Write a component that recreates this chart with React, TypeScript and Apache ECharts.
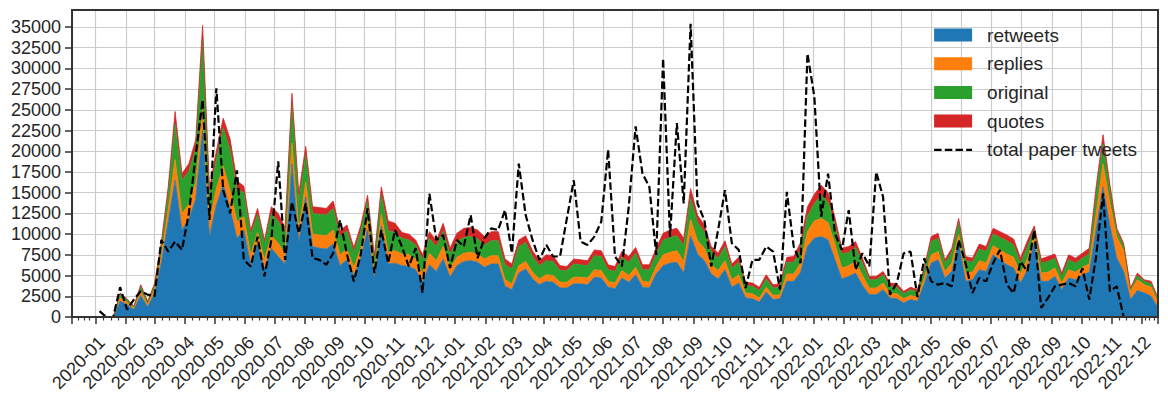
import React, { useEffect, useRef } from 'react';
import * as echarts from 'echarts';

const DAY = 86400000;
const FIRST_WEEK = Date.UTC(2019, 11, 8);
const N_WEEKS = 159;
// weekly bins (Sundays) from 2019-12-08 to 2022-12-18
const weeks: number[] = Array.from({ length: N_WEEKS }, (_, i) => FIRST_WEEK + i * 7 * DAY);

const yTicks = [0, 2500, 5000, 7500, 10000, 12500, 15000, 17500, 20000, 22500, 25000, 27500, 30000, 32500, 35000];

const retweets = [
  0, 0, 0, 0, 0, 0, 0, 1900, 1500, 900,
  2600, 1200, 2800, 6500, 11500, 16500, 10500, 11800, 14200, 22500,
  9700, 13500, 16000, 13000, 9500, 10500, 6300, 8800, 5800, 8300,
  7300, 6400, 18500, 9000, 14500, 8500, 8300, 8200, 8800, 6200,
  6900, 5000, 7000, 10500, 4600, 11000, 6400, 6500, 6200, 6100,
  5700, 4200, 6300, 5500, 7000, 4800, 6200, 6700, 6800, 6600,
  6000, 6400, 6400, 3700, 3300, 5300, 5800, 4600, 3900, 4300,
  4200, 3500, 3500, 4000, 4000, 3900, 4800, 4700, 3600, 3400,
  4700, 4200, 5100, 3600, 3500, 5200, 6200, 6500, 6600, 5300,
  9800, 7600, 6800, 5200, 4600, 5700, 3600, 4100, 2300, 2200,
  1800, 3000, 2100, 2200, 4300, 4300, 5400, 8500, 9500, 9700,
  9300, 6900, 4600, 4900, 5300, 3800, 2700, 2700, 3300, 2300,
  2200, 1700, 2100, 1900, 4000, 6500, 6900, 4700, 5500, 9000,
  4300, 4500, 5700, 5500, 7500, 6900, 6300, 5900, 4100, 5700,
  9000, 4300, 4300, 4900, 3300, 4700, 4500, 5100, 5400, 10500,
  15700, 11000, 7100, 5500, 2100, 3200, 2900, 2500, 1100,
];

const replies = [
  0, 0, 0, 0, 0, 0, 0, 400, 300, 200,
  500, 300, 500, 900, 1500, 2500, 2000, 1800, 2000, 2500,
  1800, 2000, 2200, 2300, 2000, 1600, 1200, 1400, 1100, 1500,
  1600, 1200, 2500, 1500, 1800, 1500, 1600, 1600, 1700, 1300,
  1300, 1000, 1200, 1300, 900, 1400, 1400, 1500, 1400, 1400,
  1300, 1100, 1400, 1300, 1500, 1100, 1000, 1000, 1000, 1000,
  1000, 1000, 1000, 800, 700, 900, 900, 800, 700, 800,
  800, 700, 700, 800, 800, 800, 900, 900, 700, 700,
  900, 800, 900, 700, 700, 900, 1300, 1300, 1400, 1400,
  2000, 1600, 1500, 1100, 1000, 1100, 900, 1000, 600, 600,
  500, 600, 500, 500, 900, 900, 1100, 1800, 2100, 2200,
  2100, 1900, 1300, 1300, 1400, 1200, 800, 800, 800, 600,
  600, 500, 500, 500, 700, 1000, 1000, 800, 1000, 1000,
  1100, 900, 1100, 1000, 1100, 1200, 1300, 1300, 1100, 1300,
  800, 1000, 1100, 1000, 800, 1000, 900, 900, 1000, 2000,
  2800, 2800, 2600, 2500, 1000, 1300, 1000, 1100, 700,
];

const original = [
  0, 0, 0, 0, 0, 0, 0, 400, 300, 150,
  600, 300, 500, 1200, 2100, 4300, 4000, 4000, 4100, 8500,
  3200, 3500, 4600, 4900, 3900, 2900, 2400, 2200, 1900, 2600,
  2700, 2400, 4800, 3400, 3300, 2500, 2500, 2500, 2600, 2200,
  2200, 1800, 2100, 2200, 1400, 2400, 2600, 2200, 1900, 1800,
  1700, 1600, 1800, 1700, 1900, 1700, 1900, 1900, 1900, 1800,
  1700, 1800, 1800, 1800, 1800, 2300, 2300, 1900, 1600, 1700,
  1700, 1400, 1400, 1600, 1500, 1500, 1700, 1700, 1400, 1400,
  1600, 1600, 1700, 1400, 1500, 1500, 1800, 1800, 1800, 1900,
  2600, 2200, 2000, 1600, 1500, 1700, 1400, 1500, 900, 900,
  900, 1000, 900, 900, 1400, 1400, 1600, 1900, 2100, 2800,
  2500, 2300, 1700, 1600, 1700, 1500, 1000, 1000, 1000, 800,
  800, 600, 700, 600, 900, 1600, 1600, 1000, 1300, 1400,
  1400, 1200, 1400, 1400, 1400, 1500, 1600, 1500, 1300, 1500,
  800, 1200, 1300, 1200, 800, 1200, 1100, 1100, 1200, 2300,
  2400, 1500, 700, 600, 200, 500, 400, 400, 300,
];

const quotes = [
  0, 0, 0, 0, 0, 0, 0, 200, 100, 50,
  200, 100, 200, 400, 600, 1500, 800, 900, 1100, 1700,
  800, 1000, 1200, 1300, 1000, 800, 600, 700, 500, 900,
  900, 800, 1200, 1000, 1000, 800, 800, 800, 900, 700,
  700, 600, 700, 700, 500, 900, 1200, 1100, 700, 700,
  600, 600, 800, 700, 900, 700, 1000, 1100, 1100, 1100,
  1000, 1100, 1100, 700, 600, 800, 800, 700, 600, 700,
  700, 600, 500, 600, 600, 600, 700, 700, 600, 600,
  700, 700, 700, 600, 600, 700, 800, 900, 900, 900,
  1100, 900, 800, 600, 600, 700, 500, 600, 400, 400,
  400, 500, 400, 400, 600, 700, 900, 1100, 1100, 1200,
  1100, 900, 700, 700, 700, 600, 400, 400, 400, 400,
  400, 300, 300, 300, 400, 600, 600, 400, 500, 500,
  500, 500, 600, 600, 700, 700, 700, 700, 600, 700,
  400, 500, 600, 500, 400, 600, 600, 600, 700, 900,
  1100, 700, 300, 300, 200, 300, 200, 300, 200,
];

const totalPaperTweets: (number | null)[] = [
  null, null, null, null, 700, 0, 0, 3600, 900, 2100,
  3100, 2700, 2500, 9300, 7900, 9100, 8100, 12500, 19500, 26200,
  11700, 27600, 15300, 12500, 17700, 6900, 6100, 9700, 4900, 9300,
  18800, 6900, 13900, 10100, 13700, 7100, 6900, 6300, 7700, 11700,
  7600, 4300, 7500, 13100, 5300, 10500, 6500, 10500, 8500, 6100,
  8300, 2900, 14900, 9300, 9900, 5900, 9300, 8500, 12300, 7100,
  9500, 10700, 10500, 12900, 7700, 18500, 12300, 9300, 6900, 8700,
  7300, 7300, 11900, 16500, 9100, 8700, 9700, 11500, 20200, 7300,
  6100, 13300, 23000, 17300, 15700, 7500, 31200, 9700, 23400, 13700,
  35400, 13700, 11700, 6100, 10500, 15300, 8900, 8100, 3500, 6900,
  6900, 8500, 7900, 3300, 15100, 8500, 6500, 31800, 26600, 12100,
  17300, 10100, 8100, 12900, 5700, 7700, 6100, 17500, 14500, 2700,
  4100, 7700, 7900, 2400, 7100, 4300, 3900, 4100, 3700, 9300,
  6500, 2900, 4700, 4300, 6500, 8100, 3900, 2900, 6700, 5500,
  10500, 1100, 2300, 3700, 3900, 4100, 3700, 5900, 2100, 7300,
  14900, 3100, 3700, 0, 0, 0, 0, 0, 0,
];

const COLORS = { retweets: '#1f77b4', replies: '#ff7f0e', original: '#2ca02c', quotes: '#d62728' };
const FONT = "'Liberation Sans', Arial, sans-serif";
const TEXT = '#262626';
const SPINE = '#333333';
const GRID = '#cccccc';

function areaSeries(name: string, values: number[], color: string) {
  return {
    name,
    type: 'line',
    stack: 'total',
    data: weeks.map((t, i) => [t, values[i]]),
    symbol: 'none',
    showSymbol: false,
    lineStyle: { width: 0.8, color },
    itemStyle: { color },
    areaStyle: { color, opacity: 1 },
    emphasis: { disabled: true },
    z: 2,
  };
}

export default function App() {
  const ref = useRef<HTMLDivElement>(null);
  useEffect(() => {
    if (!ref.current) return;
    const chart = echarts.init(ref.current, null, { renderer: 'svg' });
    const option: any = {
      animation: false,
      useUTC: true,
      backgroundColor: '#ffffff',
      textStyle: { fontFamily: FONT },
      grid: {
        left: 72, right: 10, top: 10, bottom: 82,
        show: true, borderColor: SPINE, borderWidth: 2, backgroundColor: 'transparent',
        containLabel: false, outerBoundsMode: 'none',
        z: 5,
      },
      legend: {
        orient: 'vertical',
        left: 933, top: 25, padding: 0,
        itemWidth: 38, itemHeight: 13, itemGap: 8.7,
        selectedMode: false,
        textStyle: { fontSize: 19, color: TEXT, fontFamily: FONT, lineHeight: 20, padding: [0, 0, 0, 10] },
        itemStyle: { borderWidth: 0 },
        data: [
          { name: 'retweets', icon: 'rect' },
          { name: 'replies', icon: 'rect' },
          { name: 'original', icon: 'rect' },
          { name: 'quotes', icon: 'rect' },
          {
            name: 'total paper tweets',
            itemStyle: { opacity: 0, color: 'transparent', borderWidth: 0 },
            lineStyle: { width: 2.2, type: [7.5, 3.2], color: '#000' },
          },
        ],
      },
      xAxis: {
        type: 'time',
        min: weeks[0],
        max: weeks[N_WEEKS - 1],
        splitNumber: 36,
        minInterval: 28 * DAY,
        maxInterval: 31 * DAY,
        axisLine: { show: true, onZero: false, lineStyle: { color: SPINE, width: 2 } },
        axisTick: { show: true, length: 7, lineStyle: { color: SPINE, width: 1.5 } },
        minorTick: { show: true, splitNumber: 4, length: 3.5, lineStyle: { color: SPINE, width: 1.2 } },
        splitLine: { show: true, lineStyle: { color: GRID, width: 1.2 } },
        axisLabel: {
          rotate: 45, fontSize: 18, color: TEXT, fontFamily: FONT, margin: 16,
          verticalAlign: 'top',
          formatter: '{yyyy}-{MM}', hideOverlap: false,
        },
      },
      yAxis: {
        type: 'value',
        min: 0,
        max: 37050,
        interval: 2500,
        axisLine: { show: true, lineStyle: { color: SPINE, width: 2 } },
        axisTick: { show: true, length: 7, lineStyle: { color: SPINE, width: 1.5 }, customValues: yTicks },
        splitLine: { show: true, lineStyle: { color: GRID, width: 1.2 } },
        axisLabel: {
          fontSize: 18, color: TEXT, fontFamily: FONT, margin: 11,
          customValues: yTicks,
          formatter: (v: number) => String(v),
        },
      },
      series: [
        areaSeries('retweets', retweets, COLORS.retweets),
        areaSeries('replies', replies, COLORS.replies),
        areaSeries('original', original, COLORS.original),
        areaSeries('quotes', quotes, COLORS.quotes),
        {
          name: 'total paper tweets',
          type: 'line',
          data: weeks.map((t, i) => [t, totalPaperTweets[i]]).filter((d) => d[1] !== null),
          symbol: 'none',
          showSymbol: false,
          itemStyle: { color: '#000' },
          lineStyle: { color: '#000', width: 2.2, type: [7.5, 3.2] },
          emphasis: { disabled: true },
          z: 3,
        },
      ],
    };
    chart.setOption(option);
    return () => chart.dispose();
  }, []);
  return (
    <div
      ref={ref}
      style={{ position: 'absolute', left: 0, top: 0, width: 1168, height: 399, background: '#fff' }}
    />
  );
}
